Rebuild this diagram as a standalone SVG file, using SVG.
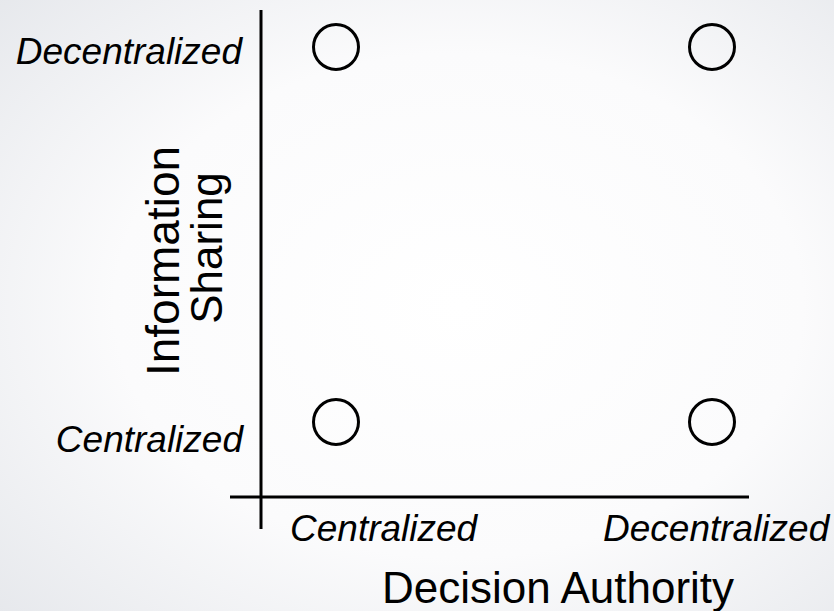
<svg xmlns="http://www.w3.org/2000/svg" width="834" height="611" viewBox="0 0 834 611">
  <defs>
    <radialGradient id="bg" cx="55%" cy="50%" r="75%">
      <stop offset="0" stop-color="#ffffff"/>
      <stop offset="0.55" stop-color="#fbfbfc"/>
      <stop offset="1" stop-color="#e6e8ec"/>
    </radialGradient>
  </defs>
  <style>
    .ax { stroke: #000; stroke-width: 3; fill: none; }
    .node { stroke: #000; stroke-width: 3; fill: none; }
    .lbl { font-family: "Liberation Sans", Arial, sans-serif; font-style: italic; font-size: 37px; fill: #000; }
    .title { font-family: "Liberation Sans", Arial, sans-serif; font-size: 44px; fill: #000; }
  </style>
  <rect x="0" y="0" width="834" height="611" fill="url(#bg)"/>
  <g id="connectors">
    <line class="ax" x1="261" y1="10" x2="261" y2="529"/>
    <line class="ax" x1="230" y1="497" x2="749" y2="497"/>
  </g>
  <g id="node-cent-dec">
    <circle class="node" cx="336" cy="47" r="22.5"/>
  </g>
  <g id="node-dec-dec">
    <circle class="node" cx="712" cy="47" r="22.5"/>
  </g>
  <g id="node-cent-cent">
    <circle class="node" cx="336" cy="422" r="22.5"/>
  </g>
  <g id="node-dec-cent">
    <circle class="node" cx="712" cy="422" r="22.5"/>
  </g>
  <g id="labels">
    <text class="lbl" x="242" y="64" text-anchor="end">Decentralized</text>
    <text class="lbl" x="243" y="452" text-anchor="end">Centralized</text>
    <text class="lbl" x="290" y="541">Centralized</text>
    <text class="lbl" x="603" y="541">Decentralized</text>
    <text class="title" x="558" y="603" text-anchor="middle">Decision Authority</text>
    <text class="title" style="font-size:46px" transform="translate(179,261) rotate(-90)" text-anchor="middle">Information</text>
    <text class="title" transform="translate(222,248) rotate(-90)" text-anchor="middle">Sharing</text>
  </g>
</svg>
